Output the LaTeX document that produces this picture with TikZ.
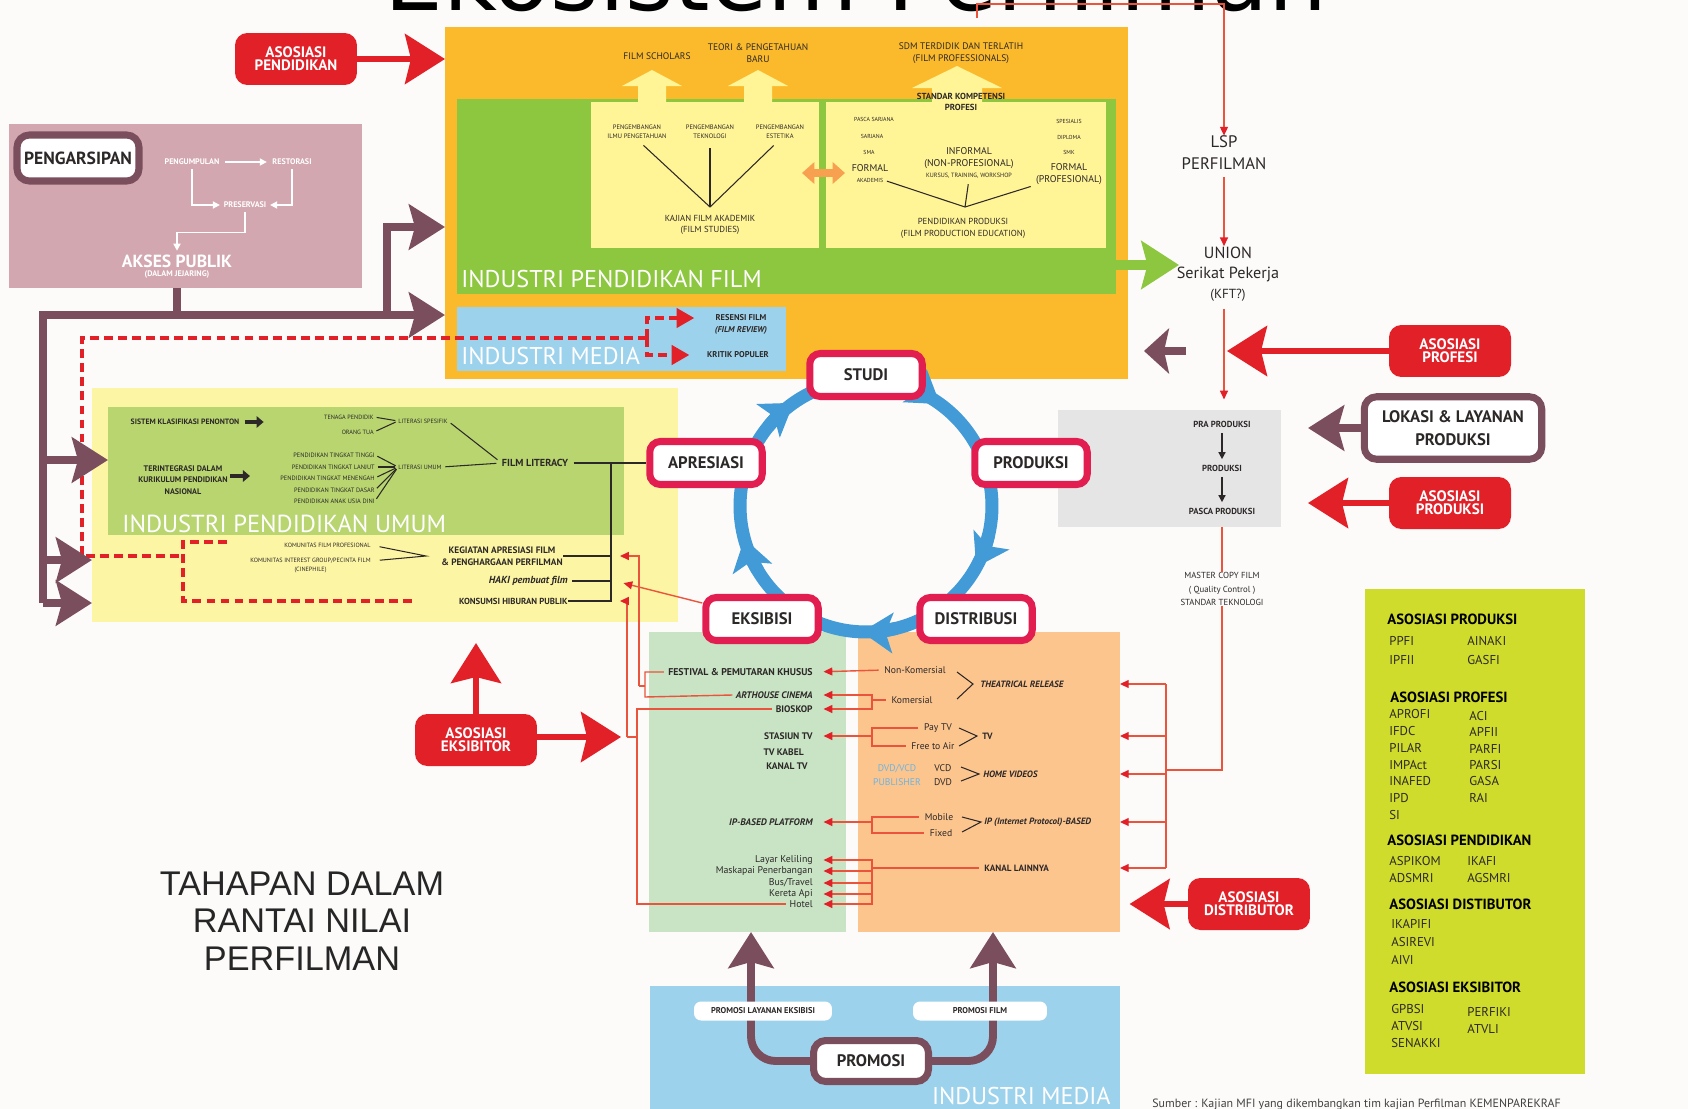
\documentclass[tikz,border=0pt]{standalone}
\usepackage{fontspec}
\setmainfont{PT Sans}
\newfontfamily\arialfont{Liberation Sans}
\newfontfamily\headfont{DejaVu Sans}
\usetikzlibrary{arrows.meta, positioning, calc}

\definecolor{pagebg}{RGB}{252,251,250}
\definecolor{pfilm}{RGB}{251,186,44}
\definecolor{pgreen}{RGB}{141,198,63}
\definecolor{pyellow}{RGB}{255,244,150}
\definecolor{umumbg}{RGB}{252,245,164}
\definecolor{umumgreen}{RGB}{184,213,112}
\definecolor{mediablue}{RGB}{157,210,236}
\definecolor{arsip}{RGB}{211,167,176}
\definecolor{mauve}{RGB}{123,78,93}
\definecolor{asored}{RGB}{226,32,40}
\definecolor{stagered}{RGB}{226,30,80}
\definecolor{ringblue}{RGB}{66,154,214}
\definecolor{exgreen}{RGB}{200,228,196}
\definecolor{distorange}{RGB}{252,197,142}
\definecolor{prodgray}{RGB}{230,229,229}
\definecolor{legendlime}{RGB}{208,220,44}
\definecolor{thinred}{RGB}{234,84,60}
\definecolor{dvdblue}{RGB}{110,180,225}
\definecolor{swaporange}{RGB}{246,160,80}
\definecolor{textdark}{RGB}{45,40,40}

\newcommand{\fs}[2]{\fontsize{#1}{#2}\selectfont}

\begin{document}
\begin{tikzpicture}[x=0.02cm, y=-0.02cm,
        txt/.style={inner sep=0pt, align=center, text=textdark},
        area/.style={inner sep=0pt, outer sep=0pt, anchor=north west},
        stage/.style={draw=stagered, line width=4pt, fill=white, rounded corners=6pt,
                      minimum width=2.25cm, minimum height=0.86cm, font=\fs{9.5}{11}\bfseries, text=textdark},
        asobox/.style={fill=asored, rounded corners=7pt, text=white, align=center, inner sep=1pt,
                       minimum width=2.44cm, minimum height=1.04cm, font=\fs{8.6}{7.6}\bfseries},
        mauvebox/.style={draw=mauve, line width=4pt, fill=white, rounded corners=7pt, align=center, text=textdark},
        mauveline/.style={mauve, line width=4.5pt},
        mauvearrow/.style={mauveline, -{Stealth[length=0.72cm, width=0.9cm, inset=0.12cm]}},
        redarrow/.style={asored, line width=3.5pt, -{Stealth[length=0.8cm, width=1.0cm, inset=0.12cm]}},
        redline/.style={draw=thinred, line width=0.8pt},
        redtip/.style={redline, -{Triangle[length=5pt, width=4.5pt, color=asored]}},
        bracket/.style={draw=textdark, line width=0.6pt},
        dashedred/.style={asored, line width=1.8pt, dash pattern=on 5pt off 3pt},
        ring/.style={ringblue, line width=7.4pt},
        whitelbl/.style={txt, text=white, font=\fs{4.6}{5.5}\bfseries},
        whitearrow/.style={white, line width=0.9pt, -{Triangle[length=4pt, width=4pt]}},
        whitetag/.style={fill=white, rounded corners=4pt, minimum height=0.38cm, inner sep=1pt,
                         font=\fs{4.8}{5.5}\bfseries, text=textdark},
        blackarrow/.style={textdark, line width=0.8pt, -{Triangle[length=4pt, width=4pt]}},
        fatarrow/.style={textdark, line width=2.6pt, -{Triangle[length=4pt, width=6.5pt]}},
        bandtitle/.style={inner sep=0pt, text=white}]

    % page and title cut by the top edge
    \fill[pagebg] (0,0) rectangle (1688,1109);
    \useasboundingbox (0,0) rectangle (1688,1109);
    \node[anchor=base, font=\headfont\fs{53}{55}, text=black] (title) at (856,10) {Ekosistem Perfilman};

    % coloured areas
    \node[area, fill=arsip, minimum width=7.06cm, minimum height=3.28cm] (arsipbox) at (9,124) {};
    \node[area, fill=pfilm, minimum width=13.66cm, minimum height=7.04cm] (pfbox) at (445,27) {};
    \node[area, fill=pgreen, minimum width=13.18cm, minimum height=3.9cm] (pfgreen) at (457,99) {};
    \node[area, fill=pyellow, minimum width=4.56cm, minimum height=2.92cm] (kajianbox) at (591,102) {};
    \node[area, fill=pyellow, minimum width=5.6cm, minimum height=2.92cm] (produkbox) at (826,102) {};
    \node[area, fill=mediablue, minimum width=6.58cm, minimum height=1.28cm] (mediabox) at (457,307) {};
    \node[area, fill=umumbg, minimum width=11.72cm, minimum height=4.68cm] (umumbox) at (92,388) {};
    \node[area, fill=umumgreen, minimum width=10.32cm, minimum height=2.56cm] (umumgreen) at (108,407) {};
    \node[area, fill=exgreen, minimum width=3.94cm, minimum height=6cm] (exbox) at (649,632) {};
    \node[area, fill=distorange, minimum width=5.24cm, minimum height=6cm] (distbox) at (858,632) {};
    \node[area, fill=prodgray, minimum width=4.46cm, minimum height=2.34cm] (prodbox) at (1058,410) {};
    \node[area, fill=legendlime, minimum width=4.4cm, minimum height=9.7cm] (legendbox) at (1365,589) {};
    \node[area, fill=mediablue, minimum width=9.4cm, minimum height=2.5cm] (promobox) at (650,986) {};

    % pendidikan film
    \fill[pyellow] (638,102) -- (638,86) -- (622,86) -- (652,70) -- (682,86) -- (666,86) -- (666,102) -- cycle;
    \fill[pyellow] (744,102) -- (744,86) -- (728,86) -- (758,70) -- (788,86) -- (772,86) -- (772,102) -- cycle;
    \fill[pyellow] (932,102) -- (932,88) -- (912,88) -- (957,66) -- (1002,88) -- (982,88) -- (982,102) -- cycle;
    \node[txt, font=\fs{5.4}{6.5}] (scholars) at (657,56) {FILM SCHOLARS};
    \node[txt, font=\fs{5.4}{7}] (teori) at (758,53) {TEORI \& PENGETAHUAN\\BARU};
    \node[txt, font=\fs{5.4}{7}] (sdm) at (961,53) {SDM TERDIDIK DAN TERLATIH\\(FILM PROFESSIONALS)};

    \node[txt, font=\fs{3.7}{5.3}] (ilmu) at (637,132) {PENGEMBANGAN\\ILMU PENGETAHUAN};
    \node[txt, font=\fs{3.7}{5.3}] (teknologi) at (710,132) {PENGEMBANGAN\\TEKNOLOGI};
    \node[txt, font=\fs{3.7}{5.3}] (estetika) at (780,132) {PENGEMBANGAN\\ESTETIKA};
    \node[txt, font=\fs{5}{6.5}] (kajian) at (710,225) {KAJIAN FILM AKADEMIK\\(FILM STUDIES)};
    \coordinate (kajianjoin) at (710,207);
    \draw[bracket, shorten <=5pt] (ilmu.south) -- (kajianjoin);
    \draw[bracket, shorten <=5pt] (teknologi.south) -- (kajianjoin);
    \draw[bracket, shorten <=5pt] (estetika.south) -- (kajianjoin);

    \draw[swaporange, line width=5pt, {Triangle[length=7pt, width=12pt]}-{Triangle[length=7pt, width=12pt]}]
        (802,173) -- (845,173);

    \node[txt, font=\fs{5}{6.5}\bfseries] (standar) at (961,102) {STANDAR KOMPETENSI\\PROFESI};
    \node[txt, font=\fs{3.3}{4}] (pasca) at (874,119) {PASCA SARJANA};
    \node[txt, font=\fs{3.3}{4}] (sarjana) at (872,136) {SARJANA};
    \node[txt, font=\fs{3.3}{4}] (sma) at (869,152) {SMA};
    \node[txt, font=\fs{5.6}{6.5}] (formal) at (870,168) {FORMAL};
    \node[txt, font=\fs{3.3}{4}] (akademis) at (870,180) {AKADEMIS};
    \node[txt, font=\fs{3.3}{4}] (spesialis) at (1069,121) {SPESIALIS};
    \node[txt, font=\fs{3.3}{4}] (diploma) at (1069,137) {DIPLOMA};
    \node[txt, font=\fs{3.3}{4}] (smk) at (1069,152) {SMK};
    \node[txt, font=\fs{5.6}{6.8}] (formalprof) at (1069,174) {FORMAL\\(PROFESIONAL)};
    \node[txt, font=\fs{5.6}{6.8}] (informal) at (969,158) {INFORMAL\\(NON-PROFESIONAL)};
    \node[txt, font=\fs{3.5}{4}] (kursus) at (969,176) {KURSUS, TRAINING, WORKSHOP};
    \node[txt, font=\fs{5}{7}] (pendprod) at (963,228) {PENDIDIKAN PRODUKSI\\(FILM PRODUCTION EDUCATION)};
    \coordinate (prodjoin) at (965,207);
    \draw[bracket, shorten <=2pt] (akademis.east) -- (prodjoin);
    \draw[bracket, shorten <=3pt] (kursus.south) -- (prodjoin);
    \draw[bracket, shorten <=3pt] (formalprof.south west) -- (prodjoin);

    \node[bandtitle, anchor=base west, font=\fs{13.8}{15}] (pftitle) at (461,287) {INDUSTRI PENDIDIKAN FILM};
    \node[bandtitle, anchor=base west, font=\fs{13.8}{15}] (mediatitle) at (461,364) {INDUSTRI MEDIA};
    \node[txt, font=\fs{4.8}{6}\bfseries] (resensi) at (741,318) {RESENSI FILM};
    \node[txt, font=\fs{4.8}{6}\bfseries\itshape, below=2.5pt of resensi] (filmreview) {(FILM REVIEW)};
    \node[txt, font=\fs{4.8}{6}\bfseries] (kritik) at (738,355) {KRITIK POPULER};

    % pengarsipan
    \node[mauvebox, minimum width=2.44cm, minimum height=0.92cm, font=\fs{10}{12}\bfseries] (arsip) at (78,158) {PENGARSIPAN};
    \node[whitelbl] (pengumpulan) at (192,162) {PENGUMPULAN};
    \node[whitelbl] (restorasi) at (292,162) {RESTORASI};
    \node[whitelbl] (preservasi) at (245,205) {PRESERVASI};
    \node[txt, text=white, font=\fs{10}{11}\bfseries] (akses) at (177,261) {AKSES PUBLIK};
    \node[whitelbl, below=1.5pt of akses] (jejaring) {(DALAM JEJARING)};
    \draw[whitearrow, shorten <=3pt, shorten >=3pt] (pengumpulan.east) -- (restorasi.west);
    \draw[whitearrow, shorten <=2pt, shorten >=2pt] (pengumpulan.south) |- (preservasi.west);
    \draw[whitearrow, shorten <=2pt, shorten >=2pt] (restorasi.south) |- (preservasi.east);
    \draw[whitearrow, shorten <=2pt, shorten >=2pt] (preservasi.south) -- ++(0,24) -| (akses.north);

    % pendidikan umum
    \node[bandtitle, anchor=base west, font=\fs{14}{15}] (umumtitle) at (122,532) {INDUSTRI PENDIDIKAN UMUM};
    \node[txt, font=\fs{4.4}{5}\bfseries] (sistem) at (185,422) {SISTEM KLASIFIKASI PENONTON};
    \node[txt, font=\fs{4.6}{6.4}\bfseries] (kurikulum) at (183,480) {TERINTEGRASI DALAM\\KURIKULUM PENDIDIKAN\\NASIONAL};
    \draw[fatarrow] ($(sistem.east)+(5,0)$) -- ++(19,0);
    \draw[fatarrow] ($(kurikulum.east)+(2,-4)$) -- ++(20,0);
    \node[txt, anchor=east, font=\fs{3.5}{4}] (tenaga) at (374,417) {TENAGA PENDIDIK};
    \node[txt, anchor=east, font=\fs{3.5}{4}] (orangtua) at (374,432) {ORANG TUA};
    \node[txt, anchor=west, font=\fs{3.5}{4}] (litspes) at (398,421) {LITERASI SPESIFIK};
    \node[txt, anchor=east, font=\fs{3.6}{4}] (tinggi) at (375,455) {PENDIDIKAN TINGKAT TINGGI};
    \node[txt, anchor=east, font=\fs{3.6}{4}] (lanjut) at (375,467) {PENDIDIKAN TINGKAT LANJUT};
    \node[txt, anchor=east, font=\fs{3.6}{4}] (menengah) at (375,478) {PENDIDIKAN TINGKAT MENENGAH};
    \node[txt, anchor=east, font=\fs{3.6}{4}] (dasar) at (375,490) {PENDIDIKAN TINGKAT DASAR};
    \node[txt, anchor=east, font=\fs{3.6}{4}] (usiadini) at (375,501) {PENDIDIKAN ANAK USIA DINI};
    \node[txt, anchor=west, font=\fs{3.5}{4}] (litumum) at (398,467) {LITERASI UMUM};
    \node[txt, font=\fs{5.8}{7}\bfseries] (filmlit) at (535,463) {FILM LITERACY};
    \foreach \src in {tenaga, orangtua}
        \draw[bracket, shorten <=1.5pt, shorten >=1.5pt] (\src.east) -- (litspes.west);
    \foreach \src in {tinggi, lanjut, menengah, dasar, usiadini}
        \draw[bracket, shorten <=1.5pt, shorten >=1.5pt] (\src.east) -- (litumum.west);
    \draw[bracket, shorten <=2pt, shorten >=3pt] (litspes.east) -- (filmlit.west);
    \draw[bracket, shorten <=2pt, shorten >=3pt] (litumum.east) -- (filmlit.west);

    \node[txt, anchor=east, font=\fs{3.5}{4}] (komprof) at (371,545) {KOMUNITAS FILM PROFESIONAL};
    \node[txt, anchor=east, font=\fs{3.5}{4}] (komint) at (371,561) {KOMUNITAS INTEREST GROUP/PECINTA FILM};
    \node[txt, font=\fs{3.5}{4}, below=1.5pt of komint] (cinephile) {(CINEPHILE)};
    \node[txt, font=\fs{5.3}{7}\bfseries] (kegiatan) at (502,556) {KEGIATAN APRESIASI FILM\\\& PENGHARGAAN PERFILMAN};
    \node[txt, anchor=east, font=\fs{5.8}{7}\bfseries\itshape] (haki) at (568,581) {HAKI pembuat film};
    \node[txt, anchor=east, font=\fs{5}{6}\bfseries] (konsumsi) at (568,601) {KONSUMSI HIBURAN PUBLIK};
    \coordinate (komjoin) at (426,556);
    \draw[bracket, shorten <=5pt, shorten >=5pt] (komprof.east) -- (komjoin) -- (komint.east);

    % cycle of stages
    \coordinate (cyc) at (866,506);
    \draw[ring] (cyc) circle[radius=2.52cm];
    \foreach \ang in {125,54,-29,-92,195}
        \draw[ring, -{Stealth[length=0.62cm, width=0.8cm, inset=0.14cm]}]
            (cyc) ++(\ang+16:2.52cm) arc[start angle=\ang+16, end angle=\ang, radius=2.52cm];
    \node[stage] (studi) at (866,375) {STUDI};
    \node[stage] (apresiasi) at (706,463) {APRESIASI};
    \node[stage] (produksi) at (1031,463) {PRODUKSI};
    \node[stage] (eksibisi) at (762,619) {EKSIBISI};
    \node[stage] (distribusi) at (976,619) {DISTRIBUSI};

    \coordinate (litbus) at (611,463);
    \draw[bracket, shorten <=3pt] (filmlit.east) -- (apresiasi.west);
    \draw[bracket] (litbus) |- (konsumsi.east);
    \draw[bracket] (litbus |- kegiatan.east) -- (kegiatan.east);
    \draw[bracket, shorten >=2pt] (litbus |- haki.east) -- (haki.east);
    \draw[bracket, shorten >=2pt] (litbus |- konsumsi.east) -- (konsumsi.east);

    % eksibisi column
    \node[txt, anchor=east, font=\fs{5.6}{6}\bfseries] (festival) at (813,672) {FESTIVAL \& PEMUTARAN KHUSUS};
    \node[txt, anchor=east, font=\fs{5.4}{6}\bfseries\itshape] (arthouse) at (813,695) {ARTHOUSE CINEMA};
    \node[txt, anchor=east, font=\fs{5.4}{6}\bfseries] (bioskop) at (813,709) {BIOSKOP};
    \node[txt, anchor=east, font=\fs{5.4}{6}\bfseries] (stasiun) at (813,736) {STASIUN TV};
    \node[txt, anchor=east, font=\fs{5.4}{6}\bfseries] (tvkabel) at (804,752) {TV KABEL};
    \node[txt, anchor=east, font=\fs{5.4}{6}\bfseries] (kanaltv) at (808,766) {KANAL TV};
    \node[txt, anchor=east, font=\fs{5.4}{6}\bfseries\itshape] (ipplat) at (813,822) {IP-BASED PLATFORM};
    \node[txt, anchor=east, font=\fs{5.6}{6}] (layar) at (813,860) {Layar Keliling};
    \node[txt, anchor=east, font=\fs{5.6}{6}] (maskapai) at (813,871) {Maskapai Penerbangan};
    \node[txt, anchor=east, font=\fs{5.6}{6}] (bustravel) at (813,883) {Bus/Travel};
    \node[txt, anchor=east, font=\fs{5.6}{6}] (kereta) at (813,894) {Kereta Api};
    \node[txt, anchor=east, font=\fs{5.6}{6}] (hotel) at (813,904) {Hotel};

    % distribusi column
    \node[txt, font=\fs{5.5}{6}] (nonkom) at (915,670) {Non-Komersial};
    \node[txt, font=\fs{5.5}{6}] (komersial) at (912,700) {Komersial};
    \node[txt, font=\fs{5.5}{6}] (paytv) at (938,728) {Pay TV};
    \node[txt, font=\fs{5.5}{6}] (freeair) at (933,746) {Free to Air};
    \node[txt, font=\fs{5.5}{7.6}, text=dvdblue] (dvdpub) at (897,775) {DVD/VCD\\PUBLISHER};
    \node[txt, font=\fs{5.5}{6}] (vcd) at (943,768) {VCD};
    \node[txt, font=\fs{5.5}{6}] (dvd) at (943,782) {DVD};
    \node[txt, font=\fs{5.5}{6}] (mobile) at (939,817) {Mobile};
    \node[txt, font=\fs{5.5}{6}] (fixed) at (941,833) {Fixed};
    \node[txt, anchor=west, font=\fs{5.2}{6}\bfseries\itshape] (theatrical) at (980,684) {THEATRICAL RELEASE};
    \node[txt, anchor=west, font=\fs{5.2}{6}\bfseries] (tv) at (982,736) {TV};
    \node[txt, anchor=west, font=\fs{5.2}{6}\bfseries\itshape] (homevid) at (983,774) {HOME VIDEOS};
    \node[txt, anchor=west, font=\fs{5.2}{6}\bfseries\itshape] (iprot) at (984,822) {IP (Internet Protocol)-BASED};
    \node[txt, anchor=west, font=\fs{5.2}{6}\bfseries] (kanallain) at (984,868) {KANAL LAINNYA};
    \draw[bracket] ($(theatrical.west)+(-23,-12)$) -- ($(theatrical.west)+(-7,0)$) -- ($(theatrical.west)+(-23,15)$);
    \draw[bracket] ($(tv.west)+(-23,-8)$) -- ($(tv.west)+(-5,0)$) -- ($(tv.west)+(-23,10)$);
    \draw[bracket] ($(homevid.west)+(-22,-7)$) -- ($(homevid.west)+(-4,0)$) -- ($(homevid.west)+(-22,7)$);
    \draw[bracket] ($(iprot.west)+(-22,-5)$) -- ($(iprot.west)+(-3,0)$) -- ($(iprot.west)+(-22,10)$);

    % distribusi to eksibisi
    \coordinate (komsplit) at (872,700);
    \coordinate (tvsplit) at (872,736);
    \coordinate (ipsplit) at (872,822);
    \coordinate (kanalsplit) at (872,868);
    \draw[redtip, shorten <=3pt, shorten >=6pt] (nonkom.west) -- (festival.east);
    \draw[redline, shorten <=3pt] (komersial.west) -- (komsplit);
    \draw[redtip, shorten >=6pt] (komsplit) |- (arthouse.east);
    \draw[redtip, shorten >=6pt] (komsplit) |- (bioskop.east);
    \draw[redline, shorten <=3pt] (paytv.west) -| (tvsplit);
    \draw[redline, shorten <=3pt] (freeair.west) -| (tvsplit);
    \draw[redtip, shorten >=6pt] (tvsplit) -- (stasiun.east);
    \draw[redline, shorten <=3pt] (mobile.west) -| (ipsplit);
    \draw[redline, shorten <=3pt] (fixed.west) -| (ipsplit);
    \draw[redtip, shorten >=6pt] (ipsplit) -- (ipplat.east);
    \draw[redline, shorten <=3pt] (kanallain.west) -- (kanalsplit);
    \foreach \dst in {layar, maskapai, bustravel, kereta, hotel}
        \draw[redtip, shorten >=6pt] (kanalsplit) |- (\dst.east);

    % eksibisi to pendidikan umum
    \coordinate (festbus) at (639,686);
    \coordinate (konsbus) at (627,737);
    \draw[redline] ($(festival.west)+(-4,0)$) -- (645,672) -- (645,697) -- ($(arthouse.west)+(-3,0)$);
    \draw[redline] (645,686) -- (festbus);
    \draw[redtip] (festbus) |- (620,556);
    \draw[redtip, shorten >=5pt] (eksibisi.165) -- (haki.east -| 615,0);
    \draw[redline] ($(bioskop.west)+(-3,0)$) -- (637,709) -- (637,904) -- ($(hotel.west)+(-3,0)$);
    \draw[redline] (637,737) -- (konsbus);
    \draw[redtip] (konsbus) |- (620,601);

    % dashed media links
    \coordinate (dashcorner) at (82,338);
    \coordinate (dashsplit) at (647,338);
    \coordinate (dashbrk) at (183,556);
    \coordinate (komstub) at (227,542);
    \draw[dashedred] (dashsplit) -- (dashcorner) |- (dashbrk);
    \draw[dashedred] (komstub) -| (183,601) -- (412,601);
    \draw[dashedred, -{Triangle[length=10pt, width=11pt]}, shorten >=12pt] (dashsplit) |- (resensi.west);
    \draw[dashedred, -{Triangle[length=10pt, width=11pt]}, shorten >=10pt] (dashsplit) |- (kritik.west);

    % arsip links
    \coordinate (leftbus) at (43,315);
    \coordinate (upbranch) at (387,315);
    \coordinate (uptip) at (445,227);
    \draw[mauveline] (arsipbox.south -| akses) -- (akses |- leftbus);
    \draw[mauveline] (43,603) -- (leftbus) -- (upbranch);
    \draw[mauvearrow] (upbranch) -- (pfbox.west |- leftbus);
    \draw[mauvearrow] (upbranch) |- (uptip);
    \draw[mauvearrow] (43,460) -- (umumgreen.west |- 0,460);
    \draw[mauvearrow] (43,560) -- (umumbox.west |- 0,560);
    \draw[mauvearrow] (43,603) -- (umumbox.west |- 0,603);

    % produksi side
    \node[txt, font=\fs{9.5}{12.5}] (lsp) at (1224,153) {LSP\\PERFILMAN};
    \node[txt, font=\fs{9.2}{11.5}] (union) at (1228,274) {UNION\\Serikat Pekerja\\{\fs{7.5}{11}(KFT?)}};
    \coordinate (titleline) at (977,18);
    \draw[redtip] (titleline) -- (977,4) -- (1224,4) -- (lsp.north);
    \draw[redtip, shorten <=4pt] (lsp.south) -- (lsp.south |- union.north);
    \draw[redtip, shorten <=4pt, shorten >=6pt] (lsp.south |- union.south) -- (lsp.south |- prodbox.north);
    \node[txt, font=\fs{5}{6}\bfseries] (pra) at (1222,424) {PRA PRODUKSI};
    \node[txt, font=\fs{5}{6}\bfseries] (produksi2) at (1222,468) {PRODUKSI};
    \node[txt, font=\fs{5}{6}\bfseries] (pascaprod) at (1222,511) {PASCA PRODUKSI};
    \draw[blackarrow, shorten <=3pt, shorten >=3pt] (pra.south) -- (produksi2.north);
    \draw[blackarrow, shorten <=3pt, shorten >=3pt] (produksi2.south) -- (pascaprod.north);
    \node[txt, font=\fs{5}{7.5}] (mastercopy) at (1222,589) {MASTER COPY FILM\\( Quality Control )\\STANDAR TEKNOLOGI};
    \draw[redline] (mastercopy.north |- prodbox.south) -- (mastercopy.north);

    \coordinate (distbus) at (1166,770);
    \draw[redline] (mastercopy.south) |- (distbus);
    \draw[redline] (distbus |- theatrical.west) -- (distbus |- kanallain.west);
    \foreach \dst in {theatrical, tv, homevid, iprot, kanallain}
        \draw[redtip] (distbus |- \dst.west) -- (distbox.east |- \dst.west);

    \node[asobox] (asoprofesi) at (1450,351) {ASOSIASI\\PROFESI};
    \node[mauvebox, minimum width=3.55cm, minimum height=1.25cm, font=\fs{9.5}{13}\bfseries] (lokasi) at (1453,428) {LOKASI \& LAYANAN\\PRODUKSI};
    \node[asobox] (asoproduksi) at (1450,503) {ASOSIASI\\PRODUKSI};
    \node[asobox] (asopend) at (296,59) {ASOSIASI\\PENDIDIKAN};
    \node[asobox] (asoeks) at (476,740) {ASOSIASI\\EKSIBITOR};
    \node[asobox] (asodist) at (1249,904) {ASOSIASI\\DISTRIBUTOR};
    \coordinate (profesitip) at (1227,351);
    \coordinate (unionleft) at (1186,351);
    \coordinate (pftip) at (1144,351);
    \coordinate (lokasitip) at (1308,428);
    \coordinate (produksitip) at (1308,503);
    \coordinate (ekstip) at (621,737);
    \draw[redarrow] (asoprofesi.west) -- (profesitip);
    \draw[mauveline, -{Stealth[length=0.5cm, width=0.9cm, inset=0.1cm]}] (unionleft) -- (pftip);
    \draw[mauvearrow] (lokasi.west) -- (lokasitip);
    \draw[redarrow] (asoproduksi.west) -- (produksitip);
    \draw[redarrow] (asopend.east) -- (pfbox.west |- asopend.east);
    \draw[redarrow, shorten >=12pt] (asoeks.north) -- (asoeks.north |- umumbox.south);
    \draw[redarrow] (asoeks.east |- ekstip) -- (ekstip);
    \draw[redarrow, shorten >=5.5pt] (asodist.west) -- (distbox.east |- asodist.west);
    \draw[pgreen, line width=6pt, -{Stealth[length=0.75cm, width=0.95cm, inset=0.12cm]}] (pfgreen.east |- 0,265) -- (1179,265);

    % promosi
    \node[mauvebox, minimum width=2.3cm, minimum height=0.82cm, font=\fs{9.5}{11}\bfseries] (promosi) at (871,1061) {PROMOSI};
    \coordinate (exin) at (751,932);
    \coordinate (distin) at (993,932);
    \draw[mauvearrow, rounded corners=14pt] (promosi.west) -| (exin);
    \draw[mauvearrow, rounded corners=14pt] (promosi.east) -| (distin);
    \node[whitetag, minimum width=2.76cm] (promolayan) at (763,1011) {PROMOSI LAYANAN EKSIBISI};
    \node[whitetag, minimum width=2.68cm] (promofilm) at (980,1011) {PROMOSI FILM};
    \node[bandtitle, anchor=base east, font=\fs{13.8}{15}] (mediatitle2) at (1111,1104) {INDUSTRI MEDIA};

    % legend
    \node[txt, anchor=west, font=\fs{8.4}{10}\bfseries, text=black] (lgprod) at (1387,619) {ASOSIASI PRODUKSI};
    \node[txt, anchor=north west, align=left, font=\fs{7.3}{10.6}] (lgprod1) at (1389,636) {PPFI\\IPFII};
    \node[txt, anchor=north west, align=left, font=\fs{7.3}{10.6}] (lgprod2) at (1467,636) {AINAKI\\GASFI};
    \node[txt, anchor=west, font=\fs{8.4}{10}\bfseries, text=black] (lgprof) at (1390,697) {ASOSIASI PROFESI};
    \node[txt, anchor=north west, align=left, font=\fs{7.3}{9.6}] (lgprof1) at (1389,709) {APROFI\\IFDC\\PILAR\\IMPAct\\INAFED\\IPD\\SI};
    \node[txt, anchor=north west, align=left, font=\fs{7.3}{9.3}] (lgprof2) at (1469,711) {ACI\\APFII\\PARFI\\PARSI\\GASA\\RAI};
    \node[txt, anchor=west, font=\fs{8.4}{10}\bfseries, text=black] (lgpend) at (1387,840) {ASOSIASI PENDIDIKAN};
    \node[txt, anchor=north west, align=left, font=\fs{7.3}{9.6}] (lgpend1) at (1389,856) {ASPIKOM\\ADSMRI};
    \node[txt, anchor=north west, align=left, font=\fs{7.3}{9.6}] (lgpend2) at (1467,856) {IKAFI\\AGSMRI};
    \node[txt, anchor=west, font=\fs{8.4}{10}\bfseries, text=black] (lgdist) at (1389,904) {ASOSIASI DISTIBUTOR};
    \node[txt, anchor=north west, align=left, font=\fs{7.3}{10.2}] (lgdist1) at (1391,919) {IKAPIFI\\ASIREVI\\AIVI};
    \node[txt, anchor=west, font=\fs{8.4}{10}\bfseries, text=black] (lgeks) at (1389,987) {ASOSIASI EKSIBITOR};
    \node[txt, anchor=north west, align=left, font=\fs{7.3}{9.6}] (lgeks1) at (1391,1004) {GPBSI\\ATVSI\\SENAKKI};
    \node[txt, anchor=north west, align=left, font=\fs{7.3}{9.6}] (lgeks2) at (1467,1007) {PERFIKI\\ATVLI};

    % captions
    \node[txt, font=\arialfont\fs{19.5}{21.5}, text=black!85] (tahapan) at (302,921) {TAHAPAN DALAM\\RANTAI NILAI\\PERFILMAN};
    \node[txt, anchor=north west, font=\fs{6.8}{7}, text=black!75] (sumber) at (1152,1099) {Sumber : Kajian MFI yang dikembangkan tim kajian Perfilman KEMENPAREKRAF};
\end{tikzpicture}
\end{document}
